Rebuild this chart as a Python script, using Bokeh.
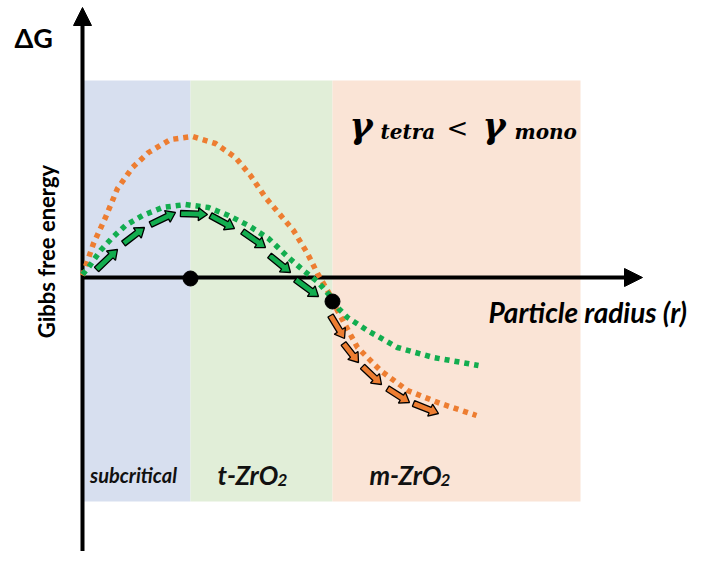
import numpy as np
from bokeh.plotting import figure
from bokeh.models import Range1d, Arrow, NormalHead
from bokeh.core.properties import value
from bokeh.embed import file_html
from bokeh.resources import INLINE

# ---- data (schematic units: x = particle radius, y = Gibbs free energy) ----
region_names = ["subcritical", "t-ZrO2", "m-ZrO2"]
region_left = [0, 108, 250]
region_right = [108, 250, 498]
region_top = 197
region_bottom = -224
region_colors = ["#d7dfef", "#e1eed8", "#fae4d6"]

# orange curve (gamma_mono)
orange_r = [0, 11, 23, 35, 50, 66, 88, 110, 133, 153, 168, 183, 211, 225, 235, 245, 256, 275, 298, 325, 358, 394]
orange_g = [2, 34, 60, 89, 110, 125, 138, 141, 134, 120, 102, 80, 47, 24, 4, -13, -35, -70, -93, -113, -126, -138]

# green curve (gamma_tetra)
green_r = [0, 6, 18, 30, 43, 60, 80, 103, 126, 146, 166, 186, 206, 221, 236, 248, 256, 265, 285, 315, 351, 385, 396]
green_g = [3, 10, 27, 40, 52, 62, 70, 73, 70, 62, 52, 39, 20, 7, -5, -19, -31, -40, -53, -70, -80, -86, -88]

# critical points
dot_r = [108, 250]
dot_g = [-1, -24]

# path arrows along green curve
garrow_r0 = [14, 41, 68, 98, 128, 160, 187, 213]
garrow_g0 = [8, 34, 53, 64, 62, 46, 22, -2]
garrow_r1 = [35, 62, 93, 125, 152, 183, 208, 236]
garrow_g1 = [28, 50, 65, 63, 49, 30, 5, -19]

# path arrows along orange curve
oarrow_r0 = [248, 261, 280, 305, 331]
oarrow_g0 = [-38, -66, -89, -111, -126]
oarrow_r1 = [262, 276, 299, 327, 356]
oarrow_g1 = [-61, -85, -107, -125, -136]

ORANGE = "#ed7d31"
GREEN = "#12ad4f"

p = figure(width=688, height=551, output_backend="svg", toolbar_location=None,
           x_range=Range1d(-82, 606), y_range=Range1d(-274, 277),
           x_axis_location=None, y_axis_location=None, min_border=0)
p.grid.visible = False
p.outline_line_color = None
p.background_fill_color = "white"
p.border_fill_color = "white"

# background regions
p.quad(left=region_left, right=region_right, top=[region_top]*3, bottom=[region_bottom]*3,
       fill_color=region_colors, line_color=None, level="image")

# axes with arrows
p.add_layout(Arrow(end=NormalHead(size=18, fill_color="black", line_color="black", line_width=1),
                   x_start=0, y_start=-300, x_end=0, y_end=270, line_width=4,
                   line_color="black", level="underlay"))
p.add_layout(Arrow(end=NormalHead(size=18, fill_color="black", line_color="black", line_width=1),
                   x_start=0, y_start=0, x_end=560, y_end=0, line_width=4,
                   line_color="black", level="underlay"))

# dotted curves
p.line(orange_r, orange_g, line_color=ORANGE, line_width=5.5, line_dash="5 5", line_cap="butt")
p.line(green_r, green_g, line_color=GREEN, line_width=5.5, line_dash="5 5", line_cap="butt")


def block_arrows(x0, y0, x1, y1, w=3.0, hw=6.5, h=9.0):
    xs, ys = [], []
    for a, b, c, d in zip(x0, y0, x1, y1):
        s = np.array([a, b], float)
        e = np.array([c, d], float)
        L = np.linalg.norm(e - s)
        u = (e - s) / L
        n = np.array([-u[1], u[0]])
        m = s + (L - h) * u
        pts = [s + n * w, m + n * w, m + n * hw, e, m - n * hw, m - n * w, s - n * w]
        xs.append([pt[0] for pt in pts])
        ys.append([pt[1] for pt in pts])
    return xs, ys


gx, gy = block_arrows(garrow_r0, garrow_g0, garrow_r1, garrow_g1)
p.patches(gx, gy, fill_color=GREEN, line_color="black", line_width=1.3)
ox, oy = block_arrows(oarrow_r0, oarrow_g0, oarrow_r1, oarrow_g1)
p.patches(ox, oy, fill_color=ORANGE, line_color="black", line_width=1.3)

# critical points
p.scatter(dot_r, dot_g, size=15, fill_color="black", line_color="black")

# ---- texts ----
sans = value("Lato")
p.text(x=[-68], y=[240], text=["ΔG"], text_font=sans, text_font_style="bold",
       text_font_size="27px", text_baseline="alphabetic", text_color="black")
p.text(x=[-36], y=[26], text=["Gibbs free energy"], text_font=sans, text_font_style="bold",
       text_font_size="22px", angle=np.pi / 2, text_align="center", text_baseline="middle",
       text_color="black")
p.text(x=[406], y=[-34], text=["Particle radius (r)"], text_font=sans,
       text_font_style="bold italic", text_font_size="28px", text_baseline="alphabetic",
       text_color="black")

p.text(x=[51], y=[-197], text=[region_names[0]], text_font=sans, text_font_style="bold italic",
       text_font_size="20px", text_align="center", text_baseline="alphabetic", text_color="#111111")
p.text(x=[135, 287], y=[-197, -197], text=["t-ZrO", "m-ZrO"], text_font=sans,
       text_font_style="bold italic", text_font_size="26px", text_baseline="alphabetic",
       text_color="#111111")
p.text(x=[195, 358], y=[-202, -202], text=["2", "2"], text_font=sans,
       text_font_style="bold italic", text_font_size="17px", text_baseline="alphabetic",
       text_color="#111111")

serif = value("DejaVu Serif")
p.text(x=[267, 400], y=[152, 152], text=["γ", "γ"], text_font=serif, text_font_style="bold italic",
       text_font_size="35px", text_baseline="alphabetic", text_color="black")
p.text(x=[298, 432], y=[146, 146], text=["tetra", "mono"], text_font=serif,
       text_font_style="bold italic", text_font_size="20px", text_baseline="alphabetic",
       text_color="black")
p.text(x=[364], y=[150], text=["<"], text_font=serif, text_font_size="26px",
       text_baseline="alphabetic", text_color="black")

open("out.html", "w").write(file_html(p, INLINE))
